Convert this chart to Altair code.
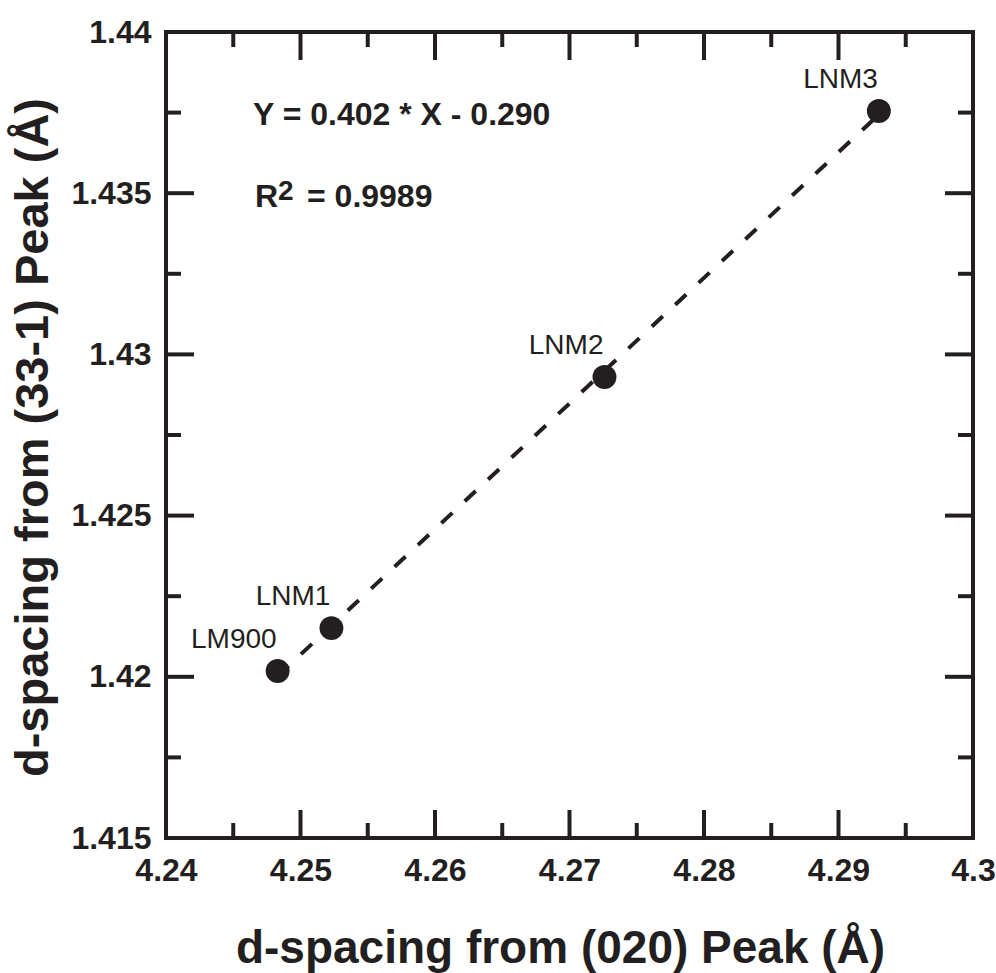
import altair as alt
import pandas as pd

# Sample d-spacings: (020) peak vs (33-1) peak, in Angstrom
samples = ["LM900", "LNM1", "LNM2", "LNM3"]
d020 = [4.2483, 4.2523, 4.2726, 4.2930]
d331 = [1.42018, 1.42151, 1.4293, 1.43755]

# Tick positions (major ones carry labels)
x_major = [4.24, 4.25, 4.26, 4.27, 4.28, 4.29, 4.30]
x_minor = [4.245, 4.255, 4.265, 4.275, 4.285, 4.295]
y_major = [1.415, 1.42, 1.425, 1.43, 1.435, 1.44]
y_minor = [1.4175, 1.4225, 1.4275, 1.4325, 1.4375]

fit_equation = "Y = 0.402 * X - 0.290"
r_squared = "= 0.9989"

W, H = 807, 806
INK = "#231f20"
FONT = "Liberation Sans"
MAJOR, MINOR = 28, 15

df = pd.DataFrame({"sample": samples, "d020": d020, "d331": d331})

xscale = alt.Scale(domain=[4.24, 4.30], nice=False, zero=False)
yscale = alt.Scale(domain=[1.415, 1.44], nice=False, zero=False)

x_axis = alt.Axis(
    values=x_major, format=".2~f", ticks=False, domain=False, grid=False,
    labelFont=FONT, labelFontSize=32, labelFontWeight="bold", labelColor=INK,
    labelPadding=17, labelFlush=False, labelOverlap=False,
    title="d-spacing from (020) Peak (Å)", titleFont=FONT, titleFontSize=46,
    titleFontWeight="bold", titleColor=INK, titleX=394, titleY=124,
    titleAlign="center", titleBaseline="alphabetic",
)
y_axis = alt.Axis(
    values=y_major, format=".3~f", ticks=False, domain=False, grid=False,
    labelFont=FONT, labelFontSize=32, labelFontWeight="bold", labelColor=INK,
    labelPadding=15, labelFlush=False, labelOverlap=False,
    title="d-spacing from (33-1) Peak (Å)", titleFont=FONT, titleFontSize=47,
    titleFontWeight="bold", titleColor=INK, titleAngle=270, titleX=-119, titleY=405,
    titleAlign="center", titleBaseline="alphabetic",
)

base = alt.Chart(df)
X = alt.X("d020:Q", scale=xscale, axis=x_axis)
Y = alt.Y("d331:Q", scale=yscale, axis=y_axis)

fit = base.transform_regression("d020", "d331").mark_line(
    color=INK, strokeWidth=4, strokeDash=[15, 17]
).encode(x=X, y=Y)

points = base.mark_circle(size=572, color=INK, opacity=1).encode(x=X, y=Y)

labels = base.mark_text(
    align="right", baseline="alphabetic", dx=-1, dy=-23,
    font=FONT, fontSize=28, color=INK,
).encode(x=X, y=Y, text="sample:N")


def xticks(values, length, top):
    d = pd.DataFrame({"d020": values})
    y0, y1 = (0, length) if top else (H, H - length)
    return alt.Chart(d).mark_rule(color=INK, strokeWidth=4).encode(
        x=X, y=alt.value(y0), y2=alt.value(y1)
    )


def yticks(values, length, right):
    d = pd.DataFrame({"d331": values})
    x0, x1 = (W, W - length) if right else (0, length)
    return alt.Chart(d).mark_rule(color=INK, strokeWidth=4).encode(
        y=Y, x=alt.value(x0), x2=alt.value(x1)
    )


tick_layers = [
    xticks(x_major, MAJOR, False), xticks(x_minor, MINOR, False),
    xticks(x_major, MAJOR, True), xticks(x_minor, MINOR, True),
    yticks(y_major, MAJOR, False), yticks(y_minor, MINOR, False),
    yticks(y_major, MAJOR, True), yticks(y_minor, MINOR, True),
]


def note(text, x, y, size):
    return alt.Chart(pd.DataFrame({"t": [text]})).mark_text(
        align="left", baseline="alphabetic", font=FONT, fontSize=size,
        fontWeight="bold", color=INK,
    ).encode(x=alt.value(x), y=alt.value(y), text="t:N")


notes = [
    note(fit_equation, 87, 93, 32),
    note("R", 89, 175, 32),
    note("2", 112, 168, 28),
    note(r_squared, 141, 175, 32),
]

chart = alt.layer(
    fit, points, labels, *tick_layers, *notes
).properties(
    width=W, height=H,
    padding={"left": 166, "top": 32, "right": 23, "bottom": 135},
    autosize=alt.AutoSizeParams(type="none"),
).configure_view(stroke=INK, strokeWidth=4)

chart.save("out.html", embed_options={"renderer": "svg", "actions": False})
